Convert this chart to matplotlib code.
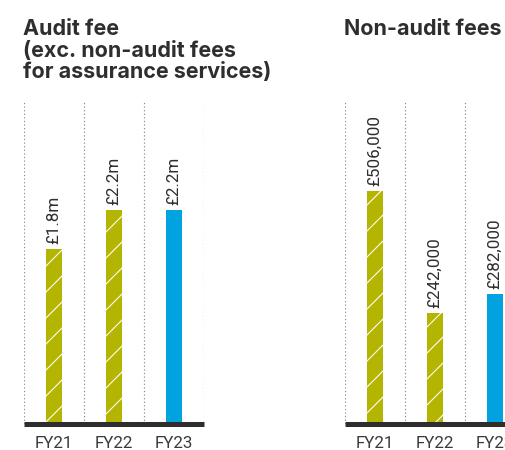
import matplotlib
matplotlib.use("Agg")
import matplotlib.pyplot as plt

# Fees by financial year
years = ["FY21", "FY22", "FY23"]
audit_fee_m = [1.8, 2.2, 2.2]            # £m
non_audit_fees = [506000, 242000, 282000]  # £
audit_labels = ["£1.8m", "£2.2m", "£2.2m"]
non_audit_labels = ["£506,000", "£242,000", "£282,000"]

OLIVE = "#b3b500"
BLUE = "#00a2e0"
DARK = "#2e2e2e"
GRID = "#8a8a8a"

DPI = 78
plt.rcParams["hatch.linewidth"] = 1.0


def pt(px):
    return px * 72 / DPI


fig = plt.figure(figsize=(505 / DPI, 450 / DPI), dpi=DPI)
fig.patch.set_facecolor("white")


def fee_panel(rect, values, labels, ymax, title):
    ax = fig.add_axes(rect)
    x = range(len(values))
    colors = [OLIVE, OLIVE, BLUE]
    hatches = ["/", "/", None]
    for xi, v, c, h, lab in zip(x, values, colors, hatches, labels):
        ax.bar(xi, v, width=0.27, color=c, hatch=h,
               edgecolor="white", linewidth=0, zorder=2)
        ax.annotate(lab, (xi, v), xytext=(0, pt(5)), textcoords="offset points",
                    rotation=90, ha="center", va="bottom",
                    fontsize=pt(17), color=DARK, family="Roboto")
    for gx in [-0.5, 0.5, 1.5, 2.5]:
        ax.axvline(gx, color=GRID, lw=pt(1.2), ls=(0, (1, 2)), zorder=1)
    ax.axhline(0, color=DARK, lw=pt(5), solid_capstyle="butt", zorder=3,
               clip_on=False)
    ax.set_xlim(-0.5, 2.5)
    ax.set_ylim(0, ymax)
    ax.set_xticks(list(x))
    ax.set_xticklabels(years, fontsize=pt(17), color="#3a3a3a", family="Roboto")
    ax.tick_params(axis="x", length=0, pad=pt(12))
    ax.set_yticks([])
    for s in ax.spines.values():
        s.set_visible(False)
    ax.set_facecolor("none")
    fig.text(rect[0] - 1 / 505, 1 - 19 / 450, title, ha="left", va="top",
             fontsize=pt(21.5), fontweight="bold", color=DARK, family="Inter",
             linespacing=1.1)
    return ax


# axes span 180 px horizontally, 324 px vertically, baseline at y=424 px
fee_panel([24 / 505, 26 / 450, 180 / 505, 324 / 450], audit_fee_m, audit_labels,
          3.33, "Audit fee\n(exc. non-audit fees\nfor assurance services)")
fee_panel([345 / 505, 26 / 450, 180 / 505, 324 / 450], non_audit_fees,
          non_audit_labels, 703700, "Non-audit fees")

fig.savefig("out.png", dpi=DPI, facecolor="white")
